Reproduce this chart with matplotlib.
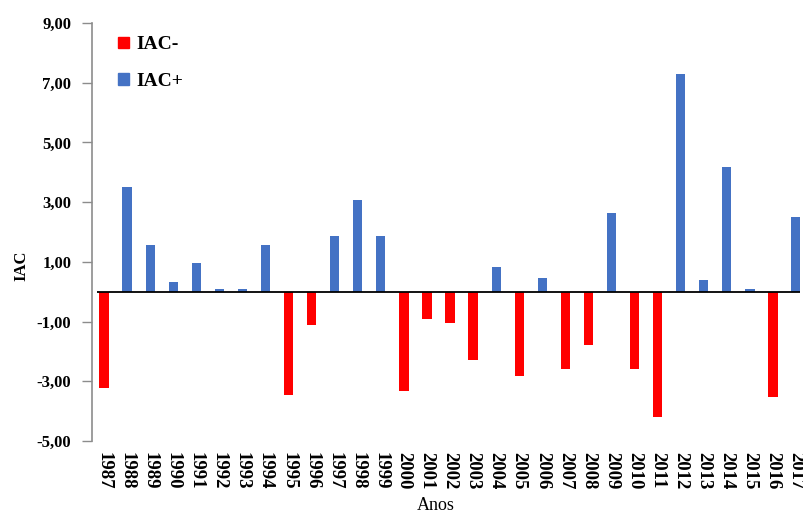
import matplotlib
matplotlib.use("Agg")
import matplotlib.pyplot as plt
from matplotlib.patches import Patch
from matplotlib.ticker import FuncFormatter

years = [str(y) for y in range(1987, 2018)]
iac = [-3.22, 3.52, 1.55, 0.33, 0.97, 0.08, 0.08, 1.55, -3.45, -1.13,
       1.85, 3.08, 1.85, -3.31, -0.90, -1.04, -2.30, 0.82, -2.82, 0.45,
       -2.58, -1.79, 2.65, -2.58, -4.18, 7.28, 0.38, 4.17, 0.09, -3.52, 2.49]
yticks = [-5, -3, -1, 1, 3, 5, 7, 9]

neg_color = "#FF0000"
pos_color = "#4472C4"
serif = ["Liberation Serif", "DejaVu Serif"]

fig = plt.figure(figsize=(8.04, 5.15), dpi=100)
ax = fig.add_axes([92 / 804, 1 - 441 / 515, (800 - 92) / 804, (441 - 23) / 515])

x = list(range(len(years)))
neg = [v if v < 0 else 0 for v in iac]
pos = [v if v > 0 else 0 for v in iac]
ax.bar(x, neg, width=0.4, color=neg_color, label="IAC-", zorder=2)
ax.bar(x, pos, width=0.4, color=pos_color, label="IAC+", zorder=2)
ax.hlines(0, -0.3, len(years) - 0.75, color="black", lw=1.3, zorder=3)

ax.set_xlim(-0.52, len(years) - 1 + 0.17)
ax.set_ylim(-5, 9)
ax.set_yticks(yticks)
ax.yaxis.set_major_formatter(FuncFormatter(lambda v, p: f"{v:.2f}".replace(".", ",")))
ax.set_xticks(x)
ax.set_xticklabels(years, rotation=-90, fontfamily=serif, fontweight="bold", fontsize=13.5)
for lab in ax.get_yticklabels():
    lab.set_fontfamily(serif)
    lab.set_fontweight("bold")
    lab.set_fontsize(12)
ax.tick_params(axis="x", length=0, pad=8)
ax.tick_params(axis="y", length=7, width=1, color="#8c8c8c", pad=8)

for s in ["top", "right", "bottom"]:
    ax.spines[s].set_visible(False)
ax.spines["left"].set_color("#8c8c8c")
ax.spines["left"].set_linewidth(1.2)

ax.set_ylabel("IAC", fontfamily=serif, fontweight="bold", fontsize=12)
ax.yaxis.set_label_coords(-0.088, 0.42)
ax.set_xlabel("Anos", fontfamily=serif, fontsize=13, labelpad=1)
ax.xaxis.set_label_coords(0.485, -0.135)

handles = [Patch(color=neg_color, label="IAC-"), Patch(color=pos_color, label="IAC+")]
ax.legend(handles=handles, loc="upper left", bbox_to_anchor=(0.012, 1.01),
          frameon=False, handlelength=0.55, handleheight=0.55, handletextpad=0.4,
          labelspacing=1.0, prop={"family": serif, "weight": "bold", "size": 14})

fig.savefig("out.png", dpi=100)
